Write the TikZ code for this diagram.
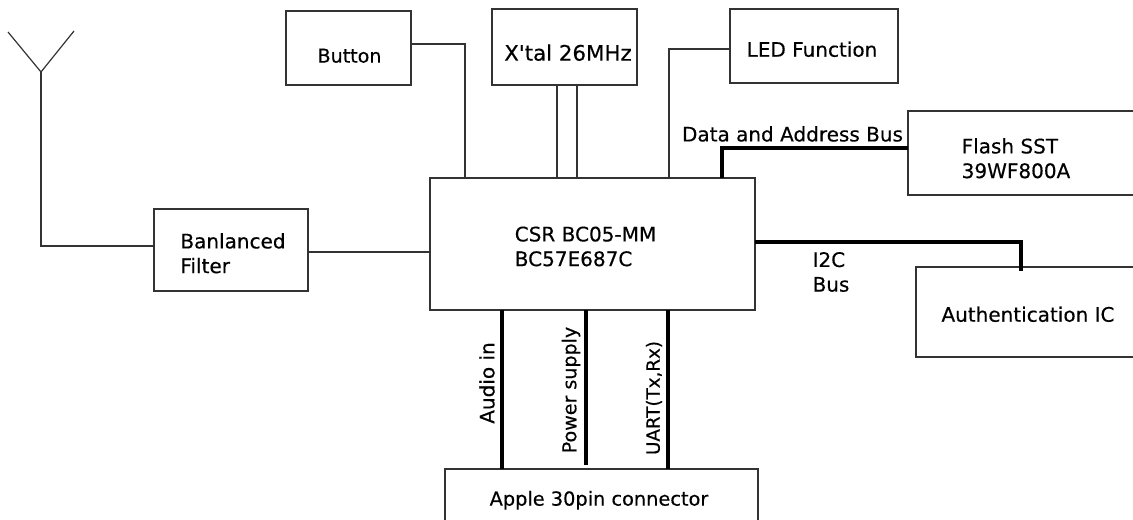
\documentclass[tikz,border=0pt]{standalone}
\usepackage{fontspec}
\setmainfont[FakeBold=0.35]{DejaVu Sans}
\newcommand\off[3]{\makebox[0pt]{\hspace*{\dimexpr #1\dimexpr1.5pt\relax\relax}\raisebox{\dimexpr -#2\dimexpr.75pt\relax-5.7pt\relax}[0pt][0pt]{\begin{tabular}{@{}l@{}}#3\end{tabular}}}}
\tikzset{
  dia/.style={font=\fontsize{15}{18.5}\selectfont,text=black},
  bx/.style 2 args={draw=black!80,line width=1pt,inner sep=0pt,outer sep=0pt,dia,
    minimum width=#1*0.75pt,minimum height=#2*0.75pt},
  thin wire/.style={draw=black!80,line width=0.9pt},
  bus/.style={draw=black,line width=3pt},
  free label/.style={dia,inner sep=0pt}
}
\begin{document}
\begin{tikzpicture}[x=0.75pt,y=-0.75pt]
\useasboundingbox (0,0) rectangle (1133,520);
\fill[white] (0,0) rectangle (1133,520);
\begin{scope}
\clip (0,0) rectangle (1133,520);
\node[bx={125}{74},font=\fontsize{14.3}{18}\selectfont] (button) at (348.5,48) {\off{1}{7}{Button}};
\node[bx={145}{76},font=\fontsize{16}{18}\selectfont] (xtal) at (564.5,47) {\off{3.5}{7}{X\textquotesingle tal 26MHz}};
\node[bx={168}{74}] (led) at (814,46) {\off{-2}{3}{LED Function}};
\node[bx={232}{84}] (flash) at (1024,153) {\off{-8}{5}{Flash SST\\39WF800A}};
\node[bx={224}{90}] (auth) at (1028,312) {\off{0}{2}{Authentication IC}};
\node[bx={325}{132}] (csr) at (592.5,244) {\off{-7}{2}{CSR BC05-MM\\BC57E687C}};
\node[bx={154}{82}] (filter) at (231,250) {\off{2}{3}{Banlanced\\Filter}};
\node[bx={313}{66},font=\fontsize{14.5}{18}\selectfont] (apple) at (601.5,502) {\off{-2.5}{-4}{Apple 30pin connector}};
\end{scope}
\node[free label] (databus) at (792.5,134) {Data and Address Bus};
\node[free label,align=left] (i2c) at (831,272) {I2C\\Bus};
\node[free label,rotate=90] (audio) at (487,383) {Audio in};
\node[free label,rotate=90,font=\fontsize{14.3}{18}\selectfont] (power) at (571,390) {Power supply};
\node[free label,rotate=90,font=\fontsize{13.7}{18}\selectfont] (uart) at (654,398) {UART(Tx,Rx)};
\coordinate (tipl) at (8,32);
\coordinate (tipr) at (74,31);
\coordinate (antfoot) at (41,72);
\coordinate (powerend) at (586,465);
\draw[thin wire] (tipl) -- (antfoot) -- (tipr);
\draw[thin wire] (antfoot) |- ([shift={(0,-4)}]filter.west);
\draw[thin wire] ([shift={(0,2)}]filter.east) -- ([shift={(0,8)}]csr.west);
\draw[thin wire] ([shift={(0,-4)}]button.east) -| ([shift={(-127.5,0)}]csr.north);
\draw[thin wire] ([shift={(-7.5,0)}]xtal.south) -- ([shift={(-35.5,0)}]csr.north);
\draw[thin wire] ([shift={(12.5,0)}]xtal.south) -- ([shift={(-15.5,0)}]csr.north);
\draw[thin wire] ([shift={(0,3)}]led.west) -| ([shift={(76.5,0)}]csr.north);
\draw[bus] ([shift={(0,-5)}]flash.west) -| ([shift={(129.5,0)}]csr.north);
\draw[bus] ([shift={(0,-2)}]csr.east) -| ([shift={(-7,4)}]auth.north);
\draw[bus] ([shift={(-90.5,0)}]csr.south) -- ([shift={(-99.5,0)}]apple.north);
\draw[bus] ([shift={(-6.5,0)}]csr.south) -- (powerend);
\draw[bus] ([shift={(75.5,0)}]csr.south) -- ([shift={(66.5,0)}]apple.north);
\end{tikzpicture}
\end{document}
